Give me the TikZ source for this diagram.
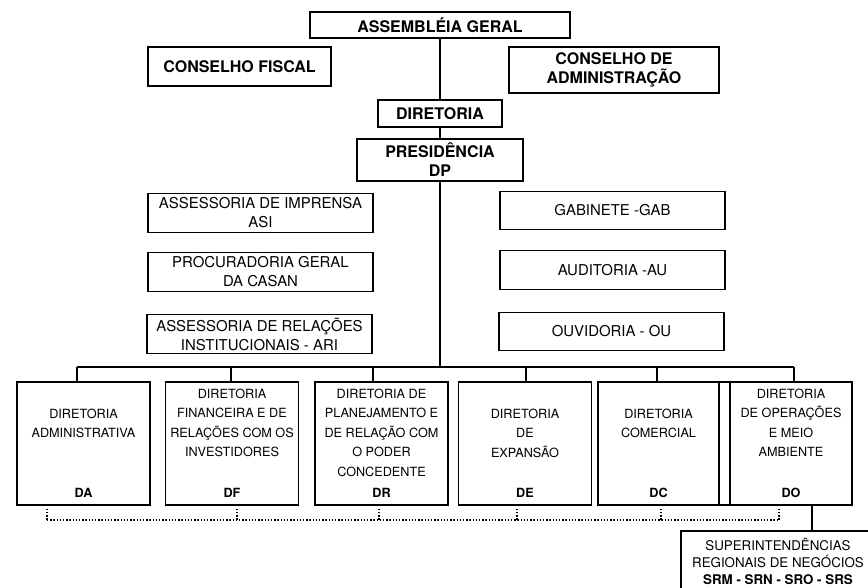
\documentclass[tikz,border=0pt]{standalone}
\usepackage{fontspec}
\setmainfont{TeX Gyre Heros}
\usepackage{tikz}

\begin{document}
\begin{tikzpicture}[x=0.75pt,y=-0.75pt,
  box/.style={draw, line width=1pt, fill=white, inner sep=0pt, align=center},
  topbox/.style={box, font=\bfseries\fontsize{12}{14.25}\selectfont},
  midbox/.style={box, font=\fontsize{11.2}{14.25}\selectfont, minimum width=168.75pt, minimum height=28.9pt},
  dirbox/.style={box, minimum width=99.75pt, minimum height=92.25pt},
  dirtxt/.style={anchor=north, inner sep=0pt, align=center, font=\fontsize{9.5}{14.6}\selectfont},
  dircode/.style={inner sep=0pt, font=\bfseries\fontsize{9.5}{11}\selectfont},
  link/.style={line width=1pt},
  dots/.style={line width=1.2pt, dash pattern=on 1.1pt off 1.3pt}]
\useasboundingbox (0,0) rectangle (868,588);
\clip (0,0) rectangle (868,588);

 %top
 \node[topbox, minimum width=195pt, minimum height=19.5pt] (ag) at (440,25) {ASSEMBLÉIA GERAL};
 \node[topbox, minimum width=137.25pt, minimum height=29.25pt] (cf) at (239.5,66.5) {CONSELHO FISCAL};
 \node[topbox, minimum width=157.5pt, minimum height=34.5pt] (ca) at (614,70) {CONSELHO DE\\ADMINISTRAÇÃO};
 \node[topbox, minimum width=93pt, minimum height=20.25pt] (dir) at (440,113.5) {DIRETORIA};
 \node[topbox, minimum width=124.5pt, minimum height=31.5pt] (pres) at (440,160) {PRESIDÊNCIA\\DP};

 %assessorias
 \node[midbox] (asi) at (260.5,213) {ASSESSORIA DE IMPRENSA\\ASI};
 \node[midbox] (pgc) at (260.5,272) {PROCURADORIA GERAL\\DA CASAN};
 \node[midbox] (ari) at (259.5,334) {ASSESSORIA DE RELAÇÕES\\INSTITUCIONAIS - ARI};
 \node[midbox] (gab) at (612.5,210.5) {GABINETE -GAB};
 \node[midbox] (aud) at (612.5,270) {AUDITORIA -AU};
 \node[midbox] (ouv) at (611.5,331.5) {OUVIDORIA - OU};

 %trunk
 \draw[link] (ag) -- (dir);
 \draw[link] (dir) -- (pres);

 %diretorias
 \node[dirbox] (da) at (83.5,443.5) {};
 \node[dirbox] (df) at (232,443.5) {};
 \node[dirbox] (dr) at (381.5,443.5) {};
 \node[dirbox] (de) at (525,443.5) {};
 \node[dirbox, minimum width=90.75pt] (dc) at (658.5,443.5) {};
 \node[dirbox, minimum width=91.5pt] (do) at (791,443.5) {};
 \draw[link] (719,382) rectangle (730,505);

 \node[dirtxt] (da-t) at (83.5,408.5) {DIRETORIA\\ADMINISTRATIVA};
 \node[dirtxt] (df-t) at (232,388.5) {DIRETORIA\\FINANCEIRA E DE\\RELAÇÕES COM OS\\INVESTIDORES};
 \node[dirtxt] (dr-t) at (381.5,388.5) {DIRETORIA DE\\PLANEJAMENTO E\\DE RELAÇÃO COM\\O PODER\\CONCEDENTE};
 \node[dirtxt] (de-t) at (525,408.5) {DIRETORIA\\DE\\EXPANSÃO};
 \node[dirtxt] (dc-t) at (658.5,408.5) {DIRETORIA\\COMERCIAL};
 \node[dirtxt] (do-t) at (791,388.5) {DIRETORIA\\DE OPERAÇÕES\\E MEIO\\AMBIENTE};

 \node[dircode] (da-c) at (83.5,493) {DA};
 \node[dircode] (df-c) at (232,493) {DF};
 \node[dircode] (dr-c) at (381.5,493) {DR};
 \node[dircode] (de-c) at (525,493) {DE};
 \node[dircode] (dc-c) at (658.5,493) {DC};
 \node[dircode] (do-c) at (791,493) {DO};

 %bus
 \coordinate (b1) at (77,367);
 \coordinate (b2) at (231,367);
 \coordinate (b3) at (373,367);
 \coordinate (b4) at (526,367);
 \coordinate (b5) at (657,367);
 \coordinate (b6) at (794,367);
 \draw[link] (pres) -- (pres |- b1);
 \draw[link] (b1) -- (b6);
 \draw[link] (b1) -- (b1 |- da.north);
 \draw[link] (b2) -- (b2 |- df.north);
 \draw[link] (b3) -- (b3 |- dr.north);
 \draw[link] (b4) -- (b4 |- de.north);
 \draw[link] (b5) -- (b5 |- dc.north);
 \draw[link] (b6) -- (b6 |- do.north);

 %dotted line
 \coordinate (d1) at (47,520);
 \coordinate (d2) at (237,520);
 \coordinate (d3) at (379,520);
 \coordinate (d4) at (517,520);
 \coordinate (d5) at (661,520);
 \coordinate (d6) at (779,520);
 \draw[dots] (d1) -- (d6);
 \draw[dots] (d1 |- da.south) ++(0,3) -- (d1);
 \draw[dots] (d2 |- df.south) ++(0,3) -- (d2);
 \draw[dots] (d3 |- dr.south) ++(0,3) -- (d3);
 \draw[dots] (d4 |- de.south) ++(0,3) -- (d4);
 \draw[dots] (d5 |- dc.south) ++(0,3) -- (d5);
 \draw[dots] (d6 |- do.south) ++(0,3) -- (d6);

 %superintendencias
 \node[box, minimum width=145.5pt, minimum height=45.75pt, font=\fontsize{10}{13}\selectfont] (sup) at (778,561.5) {SUPERINTENDÊNCIAS\\REGIONAIS DE NEGÓCIOS\\\textbf{SRM - SRN - SRO - SRS}};
 \coordinate (s) at (812,0);
 \draw[link] (s |- do.south) -- (s |- sup.north);
\end{tikzpicture}
\end{document}
